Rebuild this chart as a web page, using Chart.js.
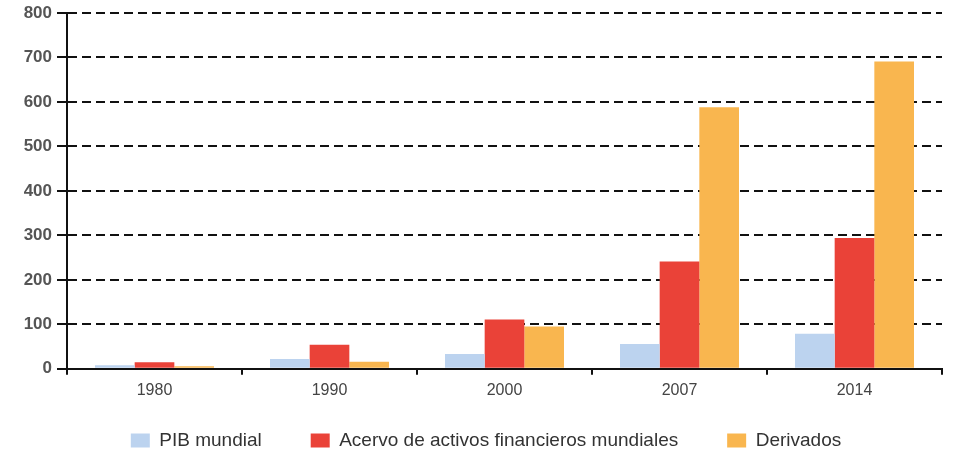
<!DOCTYPE html>
<html>
<head>
<meta charset="utf-8">
<script src="https://cdn.jsdelivr.net/npm/chart.js@4"></script>
<style>
  html, body { margin: 0; padding: 0; background: #fff; }
  #wrap { width: 980px; height: 463px; }
</style>
</head>
<body>
<div id="wrap"><canvas id="grafico" width="980" height="463"></canvas></div>
<script>
// dati
var anni = ['1980', '1990', '2000', '2007', '2014'];
var pibMundial = [8, 22, 33, 56, 79];
var acervoActivos = [15, 54, 111, 241, 294];
var derivados = [6, 16, 95, 588, 691];
var tickY = [0, 100, 200, 300, 400, 500, 600, 700, 800];

var font = 'Liberation Sans, Arial, sans-serif';

var ctx = document.getElementById('grafico').getContext('2d');
var grafico = new Chart(ctx, {
    type: 'bar',
    data: {
        labels: anni,
        datasets: [{
            label: 'PIB mundial',
            data: pibMundial,
            backgroundColor: '#bcd3ef'
        }, {
            label: 'Acervo de activos financieros mundiales',
            data: acervoActivos,
            backgroundColor: '#ea4238'
        }, {
            label: 'Derivados',
            data: derivados,
            backgroundColor: '#f9b64f'
        }]
    },
    options: {
        responsive: false,
        animation: false,
        datasets: {
            bar: { barPercentage: 1.0, categoryPercentage: 0.68 }
        },
        layout: { padding: { top: 0, right: 8, left: 0, bottom: 3 } },
        plugins: {
            tooltip: { enabled: false },
            legend: {
                position: 'bottom',
                labels: {
                    boxWidth: 19,
                    boxHeight: 14,
                    padding: 12,
                    color: '#333',
                    font: { family: font, size: 19 },
                    // spazi finali per allargare la distanza fra le voci
                    generateLabels: function (chart) {
                        var items = Chart.defaults.plugins.legend.labels.generateLabels(chart);
                        items.forEach(function (it, i) {
                            if (i < items.length - 1) it.text = it.text + '       ';
                        });
                        return items;
                    }
                }
            }
        },
        scales: {
            x: {
                afterFit: function (scale) { scale.height = scale.height + 13; },
                grid: {
                    display: true,
                    drawOnChartArea: false,
                    drawTicks: true,
                    tickLength: 6,
                    color: '#111',
                    lineWidth: 2
                },
                border: { color: '#111', width: 2 },
                ticks: {
                    color: '#444',
                    padding: 6,
                    font: { family: font, size: 16 }
                }
            },
            y: {
                min: 0,
                max: 800,
                afterBuildTicks: function (scale) {
                    scale.ticks = tickY.map(v => ({ value: v }));
                },
                afterFit: function (scale) {
                    scale.width = 67;
                    scale.paddingTop = 13;
                },
                grid: {
                    color: '#111',
                    lineWidth: 2,
                    tickLength: 10
                },
                border: { color: '#111', width: 2, dash: [9, 5] },
                ticks: {
                    color: '#555',
                    padding: 5,
                    font: { family: font, size: 17, weight: 'bold' }
                }
            },
            // asse vuoto a destra, solo per lasciare margine
            margine: {
                position: 'right',
                display: true,
                afterFit: function (scale) { scale.width = 30; },
                grid: { display: false },
                border: { display: false },
                ticks: { display: false }
            }
        }
    }
});
</script>
</body>
</html>
